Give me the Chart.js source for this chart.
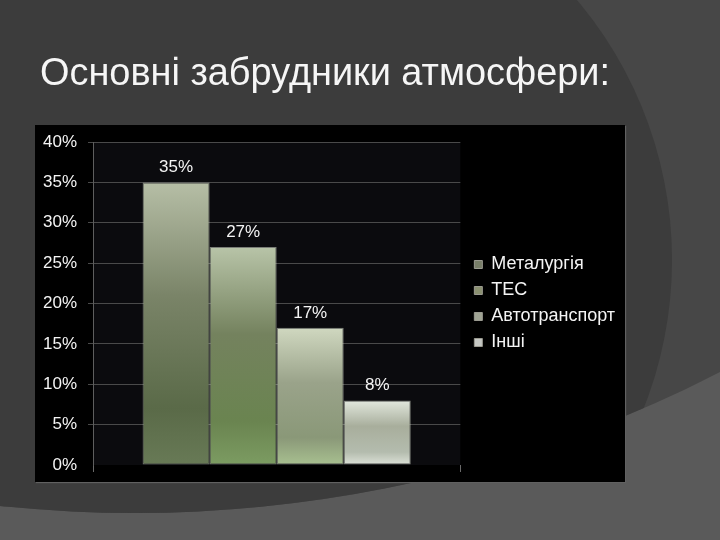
<!DOCTYPE html>
<html>
<head>
<meta charset="utf-8">
<script src="https://cdn.jsdelivr.net/npm/chart.js@4/dist/chart.umd.min.js"></script>
<style>
  body { margin: 0; width: 720px; height: 540px; overflow: hidden; position: relative; background: #5a5a5a; }
  #bg { position: absolute; left: 0; top: 0; }
  #title { position: absolute; left: 40px; top: 50px; white-space: nowrap; color: #f6f6f6;
           font: 39px "Liberation Sans Narrow", "Arial Narrow", "Liberation Sans", sans-serif; line-height: 44px;
           transform-origin: 0 0; }
  #box { position: absolute; left: 35px; top: 125px; width: 590px; height: 357px; background: #000;
         box-shadow: 1px 1px 1px #616161; }
</style>
</head>
<body>
<canvas id="bg" width="720" height="540"></canvas>
<div id="title">Основні забрудники атмосфери:</div>
<div id="box"><canvas id="chart" width="590" height="357"></canvas></div>
<script>
// data
const categories = [''];
const sources = ['Металургія', 'ТЕС', 'Автотранспорт', 'Інші'];
const shares = [35, 27, 17, 8];
const yMax = 40;
const yStep = 5;

// bar gradients, top -> bottom
const barStops = [
    ['#b6bea6', '#7a8468', '#5a6a48', '#687a56'],
    ['#b8c4a8', '#74825e', '#6a8450', '#7c9c62'],
    ['#d0d8c0', '#9aa38a', '#8a9878', '#a8c090'],
    ['#e2e8de', '#a8ae9c', '#b4bcae', '#dde2d8']
];
const stopPos = [0, 0.4, 0.8, 1];
const legendColors = ['#787e68', '#8a9070', '#a0a494', '#c6c8c4'];

// slide background (theme circles)
(function () {
    const g = document.getElementById('bg').getContext('2d');
    g.fillStyle = '#5a5a5a';
    g.fillRect(0, 0, 720, 540);
    g.save();
    g.beginPath();
    g.arc(135, -772, 1285, 0, Math.PI * 2);
    g.clip();
    g.fillStyle = '#474747';
    g.fillRect(0, 0, 720, 540);
    g.beginPath();
    g.arc(269, 260, 403, 0, Math.PI * 2);
    g.fillStyle = '#3c3c3c';
    g.fill();
    g.restore();
})();

// stretch title to its width in the slide
(function () {
    const t = document.getElementById('title');
    const w = t.getBoundingClientRect().width;
    t.style.transform = 'scaleX(' + (570 / w) + ')';
})();

function barFill(ctx, i) {
    const chart = ctx.chart;
    if (!chart.chartArea || ctx.type !== 'data') return legendColors[i];
    const ys = chart.scales.y;
    const top = ys.getPixelForValue(shares[i]);
    const bottom = ys.getPixelForValue(0);
    const gr = chart.ctx.createLinearGradient(0, top, 0, bottom);
    barStops[i].forEach((c, k) => gr.addColorStop(stopPos[k], c));
    return gr;
}

const plotBg = {
    id: 'plotBg',
    beforeLayout(chart) {
        // let the legend be as wide as its text
        const lg = chart.legend;
        if (lg && !lg._wide) {
            const upd = lg.update.bind(lg);
            lg.update = (w, h, m) => upd(Math.max(w, 220), h, m);
            lg._wide = true;
        }
    },
    beforeDraw(chart) {
        const a = chart.chartArea;
        chart.ctx.save();
        chart.ctx.fillStyle = '#0b0b0e';
        chart.ctx.fillRect(a.left, a.top, a.right - a.left, a.bottom - a.top);
        chart.ctx.restore();
    }
};

const valueLabels = {
    id: 'valueLabels',
    afterDatasetsDraw(chart) {
        const c = chart.ctx;
        c.save();
        c.fillStyle = '#f4f4f4';
        c.font = '17px "Liberation Sans", Arial, sans-serif';
        c.textAlign = 'center';
        c.textBaseline = 'alphabetic';
        chart.data.datasets.forEach((ds, i) => {
            chart.getDatasetMeta(i).data.forEach((bar, j) => {
                c.fillText(ds.data[j] + '%', bar.x, bar.y - 10);
            });
        });
        c.restore();
    }
};

Chart.defaults.font.family = '"Liberation Sans", Arial, sans-serif';
Chart.defaults.font.size = 17;
Chart.defaults.color = '#f4f4f4';

new Chart(document.getElementById('chart').getContext('2d'), {
    type: 'bar',
    data: {
        labels: categories,
        datasets: sources.map((name, i) => ({
            label: name,
            data: [shares[i]],
            backgroundColor: ctx => barFill(ctx, i),
            borderColor: 'rgba(215,220,205,0.55)',
            borderWidth: 1,
            borderSkipped: false,
            categoryPercentage: 0.73,
            barPercentage: 1
        }))
    },
    options: {
        responsive: false,
        animation: false,
        layout: { padding: { top: 17, left: 0, right: 0, bottom: 0 } },
        scales: {
            x: {
                grid: { drawOnChartArea: false, color: '#6a6a6a', tickLength: 7 },
                border: { display: false },
                ticks: { display: false },
                afterFit(s) { s.height = 17; }
            },
            y: {
                min: 0,
                max: yMax,
                ticks: { stepSize: yStep, padding: 11, callback: v => v + '%' },
                grid: { color: ctx => ctx.tick && ctx.tick.value === 0 ? 'rgba(0,0,0,0)' : '#4a4a4a', tickLength: 5 },
                border: { color: '#5e5e5e' },
                afterFit(s) { s.width = 58; s.paddingTop = 0; s.paddingBottom = 0; }
            },
            gap: {
                position: 'right',
                grid: { display: false },
                ticks: { display: false },
                border: { display: false },
                afterFit(s) { s.width = 6; s.paddingTop = 0; s.paddingBottom = 0; }
            }
        },
        plugins: {
            legend: {
                position: 'right',
                fullSize: false,
                labels: {
                    boxWidth: 8,
                    boxHeight: 8,
                    padding: 8,
                    color: '#f4f4f4',
                    font: { size: 18 },
                    generateLabels: () => sources.map((s, i) => ({
                        text: s,
                        fillStyle: legendColors[i],
                        strokeStyle: '#9a9a90',
                        lineWidth: 1,
                        fontColor: '#f4f4f4',
                        datasetIndex: i,
                        hidden: false
                    }))
                }
            },
            tooltip: { enabled: false }
        }
    },
    plugins: [plotBg, valueLabels]
});
</script>
</body>
</html>
